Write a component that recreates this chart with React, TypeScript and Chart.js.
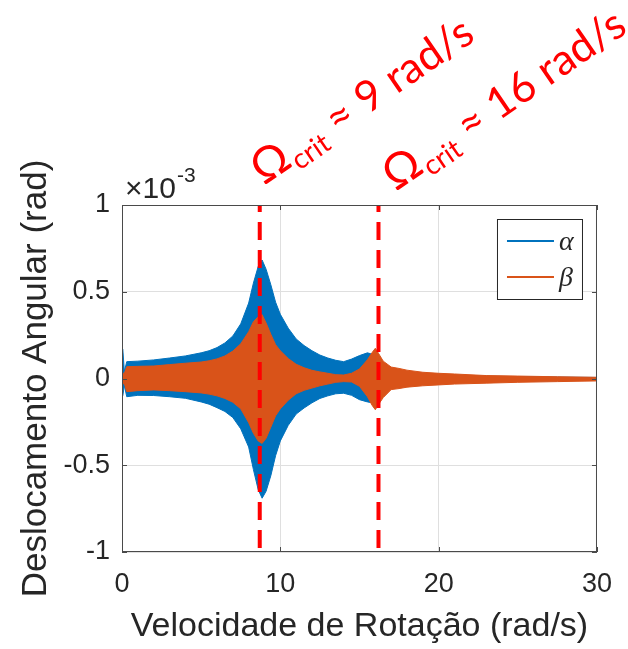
import React, { useEffect, useRef } from "react";
import { Chart, registerables } from "chart.js";
Chart.register(...registerables);

// Rotation speed samples (rad/s)
const speeds = [0.05, 0.15, 0.3, 1, 2, 3, 4, 5, 5.5, 6, 6.5, 7, 7.5, 8, 8.3, 8.6, 8.85, 9.1, 9.4, 9.7, 10, 10.5, 11, 11.5, 12, 12.5, 13, 13.5, 14, 14.5, 15, 15.5, 15.8, 16.0, 16.2, 16.5, 17, 17.5, 18, 19, 20, 21, 23, 25, 27.5, 30];

// Envelope of alpha (x1e-3 rad)
const alphaUpper = [0.17, 0.04, 0.097, 0.1, 0.107, 0.118, 0.13, 0.148, 0.16, 0.178, 0.205, 0.245, 0.315, 0.435, 0.55, 0.645, 0.683, 0.63, 0.54, 0.44, 0.37, 0.29, 0.228, 0.19, 0.16, 0.135, 0.118, 0.105, 0.097, 0.112, 0.132, 0.148, 0.14, 0.13, 0.1, 0.07, 0.05, 0.04, 0.035, 0.03, 0.025, 0.02, 0.013, 0.011, 0.008, 0.006];
const alphaLower = [-0.1, -0.04, -0.105, -0.097, -0.098, -0.105, -0.114, -0.135, -0.148, -0.168, -0.19, -0.225, -0.29, -0.395, -0.525, -0.64, -0.69, -0.65, -0.56, -0.445, -0.36, -0.27, -0.205, -0.17, -0.14, -0.115, -0.1, -0.088, -0.085, -0.097, -0.122, -0.135, -0.14, -0.13, -0.1, -0.08, -0.045, -0.04, -0.035, -0.03, -0.03, -0.025, -0.02, -0.016, -0.013, -0.01];

// Envelope of beta (x1e-3 rad)
const betaUpper = [0.03, 0.03, 0.068, 0.07, 0.072, 0.08, 0.088, 0.095, 0.102, 0.113, 0.13, 0.158, 0.2, 0.27, 0.327, 0.356, 0.368, 0.32, 0.255, 0.195, 0.16, 0.115, 0.082, 0.062, 0.047, 0.038, 0.03, 0.022, 0.02, 0.03, 0.055, 0.108, 0.15, 0.174, 0.145, 0.1, 0.066, 0.058, 0.048, 0.036, 0.03, 0.026, 0.017, 0.014, 0.01, 0.007];
const betaLower = [-0.03, -0.03, -0.076, -0.07, -0.066, -0.07, -0.076, -0.083, -0.09, -0.1, -0.115, -0.137, -0.175, -0.255, -0.316, -0.36, -0.374, -0.345, -0.28, -0.215, -0.175, -0.125, -0.088, -0.068, -0.055, -0.042, -0.032, -0.022, -0.018, -0.02, -0.045, -0.105, -0.155, -0.18, -0.15, -0.11, -0.064, -0.058, -0.05, -0.042, -0.037, -0.032, -0.027, -0.022, -0.018, -0.014];

// Critical speeds (rad/s) and their labels
const critSpeeds = [8.7, 16.2];
const critLabels = ["9", "16"];
const seriesNames = ["α", "β"];
const xTitle = "Velocidade de Rotação (rad/s)";
const yTitle = "Deslocamento Angular (rad)";
const yExponent = "-3";

const BLUE = "#0072BD";
const ORANGE = "#D95319";
const AXIS = "#262626";
const FONT = '"Liberation Sans", Arial, sans-serif';

const toPts = (ys: number[]) => ys.map((v, i) => ({ x: speeds[i], y: v }));

const overlay = {
  id: "overlay",
  afterDraw(chart: any) {
    const { ctx, chartArea, scales } = chart;
    const { left, right, top, bottom } = chartArea;
    const xs = scales.x;
    const ys = scales.y;
    ctx.save();
    // axes box
    ctx.strokeStyle = "#4a4a4a";
    ctx.lineWidth = 1;
    ctx.strokeRect(left + 0.5, top + 0.5, right - left - 1, bottom - top - 1);
    // inward tick marks
    ctx.beginPath();
    xs.ticks.forEach((t: any) => {
      const px = Math.round(xs.getPixelForValue(t.value)) + 0.5;
      ctx.moveTo(px, bottom); ctx.lineTo(px, bottom - 5);
      ctx.moveTo(px, top); ctx.lineTo(px, top + 5);
    });
    ys.ticks.forEach((t: any) => {
      const py = Math.round(ys.getPixelForValue(t.value)) + 0.5;
      ctx.moveTo(left, py); ctx.lineTo(left + 5, py);
      ctx.moveTo(right, py); ctx.lineTo(right - 5, py);
    });
    ctx.stroke();

    // exponent label
    ctx.fillStyle = AXIS;
    ctx.textAlign = "left";
    ctx.textBaseline = "alphabetic";
    ctx.font = `30px ${FONT}`;
    ctx.fillText("×10", left + 3, top - 7);
    const w = ctx.measureText("×10").width;
    ctx.font = `21px ${FONT}`;
    ctx.fillText(yExponent, left + 3 + w + 1, top - 23);

    // legend
    const lx = right - 100, ly = top + 14, lw = 85, lh = 80;
    ctx.fillStyle = "#ffffff";
    ctx.fillRect(lx, ly, lw, lh);
    ctx.strokeStyle = AXIS;
    ctx.lineWidth = 1;
    ctx.strokeRect(lx + 0.5, ly + 0.5, lw, lh);
    const colors = [BLUE, ORANGE];
    seriesNames.forEach((name, i) => {
      const yy = ly + 22 + i * 36;
      ctx.strokeStyle = colors[i];
      ctx.lineWidth = 2;
      ctx.beginPath();
      ctx.moveTo(lx + 10, yy); ctx.lineTo(lx + 57, yy);
      ctx.stroke();
      ctx.fillStyle = AXIS;
      ctx.font = `italic 28px "Liberation Serif", "DejaVu Serif", serif`;
      ctx.textBaseline = "middle";
      ctx.fillText(name, lx + 62, yy + 2);
    });

    // critical speed annotations
    const angle = (-34.5 * Math.PI) / 180;
    const S = 43;
    const anchors = [
      [4, -19],
      [17, -13],
    ];
    critSpeeds.forEach((c, i) => {
      const px = xs.getPixelForValue(c) + anchors[i][0];
      const py = top + anchors[i][1];
      ctx.save();
      ctx.translate(px, py);
      ctx.rotate(angle);
      ctx.fillStyle = "#FF0000";
      ctx.textBaseline = "alphabetic";
      ctx.textAlign = "left";
      let cx = 0;
      ctx.font = `${S + 3}px Lato, "Open Sans", sans-serif`;
      ctx.fillText("Ω", cx, 0);
      cx += ctx.measureText("Ω").width + 1;
      ctx.font = `${Math.round(S * 0.64)}px Lato, "Open Sans", sans-serif`;
      ctx.fillText("crit", cx, S * 0.18);
      cx += ctx.measureText("crit").width;
      ctx.font = `${S}px Lato, "Open Sans", sans-serif`;
      ctx.fillText(` ≈ ${critLabels[i]} rad/s`, cx, 0);
      ctx.restore();
    });
    ctx.restore();
  },
};

export default function App() {
  const ref = useRef<HTMLCanvasElement>(null);
  useEffect(() => {
    if (!ref.current) return;
    const dashed = (c: number) => ({
      data: [{ x: c, y: 1 }, { x: c, y: -1 }],
      borderColor: "#FF0000",
      borderWidth: 4,
      borderDash: [18, 10],
      borderDashOffset: 11,
      pointRadius: 0,
      fill: false,
      order: 1,
    });
    const chart = new Chart(ref.current, {
      type: "line",
      data: {
        datasets: [
          { data: toPts(alphaUpper), borderColor: BLUE, backgroundColor: BLUE, borderWidth: 1, pointRadius: 0, fill: "+1", order: 3 },
          { data: toPts(alphaLower), borderColor: BLUE, backgroundColor: BLUE, borderWidth: 1, pointRadius: 0, fill: false, order: 3 },
          { data: toPts(betaUpper), borderColor: ORANGE, backgroundColor: ORANGE, borderWidth: 1, pointRadius: 0, fill: "+1", order: 2 },
          { data: toPts(betaLower), borderColor: ORANGE, backgroundColor: ORANGE, borderWidth: 1, pointRadius: 0, fill: false, order: 2 },
          ...critSpeeds.map(dashed),
        ] as any,
      },
      options: {
        responsive: false,
        animation: false,
        layout: { padding: { top: 205, right: 25, left: 0, bottom: 0 } },
        plugins: { legend: { display: false }, tooltip: { enabled: false } },
        scales: {
          x: {
            type: "linear",
            min: 0,
            max: 30,
            ticks: { stepSize: 10, font: { family: FONT, size: 27 }, color: AXIS, padding: 16, maxRotation: 0, autoSkip: false },
            grid: { color: "#dfdfdf", drawTicks: false },
            border: { display: false },
            title: { display: true, text: xTitle, font: { family: FONT, size: 34 }, color: AXIS, padding: { top: 0, bottom: 2 } },
            afterFit: (s: any) => { s.height = 97; },
          },
          y: {
            type: "linear",
            min: -1,
            max: 1,
            ticks: { stepSize: 0.5, font: { family: FONT, size: 27 }, color: AXIS, padding: 12, callback: (v: any) => String(v) },
            grid: { color: "#dfdfdf", drawTicks: false },
            border: { display: false },
            title: { display: true, text: yTitle, font: { family: FONT, size: 35 }, color: AXIS, padding: { top: 15, bottom: 0 } },
            afterFit: (s: any) => { s.width = 122; },
          },
        },
      } as any,
      plugins: [overlay],
    });
    return () => chart.destroy();
  }, []);
  return (
    <div style={{ position: "absolute", left: 0, top: 0, width: 628, height: 649, background: "#fff" }}>
      <canvas ref={ref} width={628} height={649} style={{ display: "block" }} />
    </div>
  );
}
